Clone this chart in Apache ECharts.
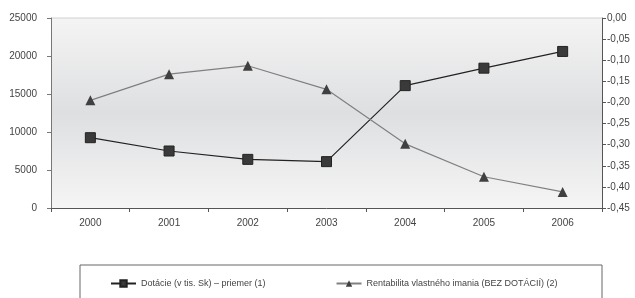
<!DOCTYPE html>
<html>
<head>
<meta charset="utf-8">
<script src="https://cdn.jsdelivr.net/npm/echarts@6/dist/echarts.min.js"></script>
<style>
  html, body { margin: 0; padding: 0; background: #fff; }
  #main { width: 635px; height: 298px; }
</style>
</head>
<body>
<div id="main"></div>
<script>
var years = ['2000', '2001', '2002', '2003', '2004', '2005', '2006'];
// Dotácie (v tis. Sk) – priemer (1), left axis
var dotacie = [9250, 7500, 6400, 6100, 16100, 18400, 20600];
// Rentabilita vlastného imania (BEZ DOTÁCIÍ) (2), right axis
var rentabilita = [-0.195, -0.133, -0.113, -0.169, -0.298, -0.376, -0.412];

var chartDom = document.getElementById('main');
var myChart = echarts.init(chartDom);

var labelFont = {
  color: '#444',
  fontSize: 10,
  fontFamily: 'Liberation Sans, Arial, sans-serif'
};

var option = {
  animation: false,
  backgroundColor: '#fff',
  grid: {
    left: 51,
    right: 33,
    top: 18,
    bottom: 90,
    show: true,
    borderWidth: 0,
    backgroundColor: {
      type: 'linear',
      x: 0, y: 0, x2: 0, y2: 1,
      colorStops: [
        { offset: 0, color: '#f4f4f4' },
        { offset: 0.5, color: '#dedfe1' },
        { offset: 1, color: '#f5f5f5' }
      ]
    }
  },
  legend: {
    left: 110,
    top: 279,
    padding: 0,
    itemWidth: 25,
    itemHeight: 8,
    itemGap: 70,
    textStyle: { color: '#444', fontSize: 9, fontFamily: 'Liberation Sans, Arial, sans-serif' },
    data: [
      'Dotácie (v tis. Sk) – priemer (1)',
      'Rentabilita vlastného imania (BEZ DOTÁCIÍ) (2)'
    ]
  },
  graphic: [
    {
      type: 'rect',
      shape: { x: 80, y: 265, width: 522, height: 50 },
      style: { fill: 'none', stroke: '#666', lineWidth: 1 },
      silent: true
    },
    {
      type: 'line',
      shape: { x1: 51, y1: 18, x2: 602, y2: 18 },
      style: { stroke: '#d0d0d0', lineWidth: 1 },
      silent: true
    }
  ],
  xAxis: {
    type: 'category',
    data: years,
    boundaryGap: true,
    axisLine: { lineStyle: { color: '#555' } },
    axisTick: { show: true, length: 4, lineStyle: { color: '#555' } },
    axisLabel: Object.assign({ margin: 10 }, labelFont)
  },
  yAxis: [
    {
      type: 'value',
      min: 0,
      max: 25000,
      interval: 5000,
      position: 'left',
      splitLine: { show: false },
      axisLine: { show: true, lineStyle: { color: '#777' } },
      axisTick: { show: true, length: 4, lineStyle: { color: '#777' } },
      axisLabel: Object.assign({
        margin: 14,
        formatter: function (v) { return String(v); }
      }, labelFont)
    },
    {
      type: 'value',
      min: -0.45,
      max: 0,
      interval: 0.05,
      position: 'right',
      splitLine: { show: false },
      axisLine: { show: true, lineStyle: { color: '#555' } },
      axisTick: { show: true, length: 4, lineStyle: { color: '#555' } },
      axisLabel: Object.assign({
        margin: 5,
        formatter: function (v) { return v.toFixed(2).replace('.', ','); }
      }, labelFont)
    }
  ],
  series: [
    {
      name: 'Dotácie (v tis. Sk) – priemer (1)',
      type: 'line',
      yAxisIndex: 0,
      data: dotacie,
      symbol: 'rect',
      symbolSize: 10,
      lineStyle: { color: '#222', width: 1.2 },
      itemStyle: { color: '#3a3a3a', borderColor: '#222', borderWidth: 1 }
    },
    {
      name: 'Rentabilita vlastného imania (BEZ DOTÁCIÍ) (2)',
      type: 'line',
      yAxisIndex: 1,
      data: rentabilita,
      symbol: 'triangle',
      symbolSize: 10,
      lineStyle: { color: '#808080', width: 1.2 },
      itemStyle: { color: '#404040' }
    }
  ]
};

myChart.setOption(option);
</script>
</body>
</html>
